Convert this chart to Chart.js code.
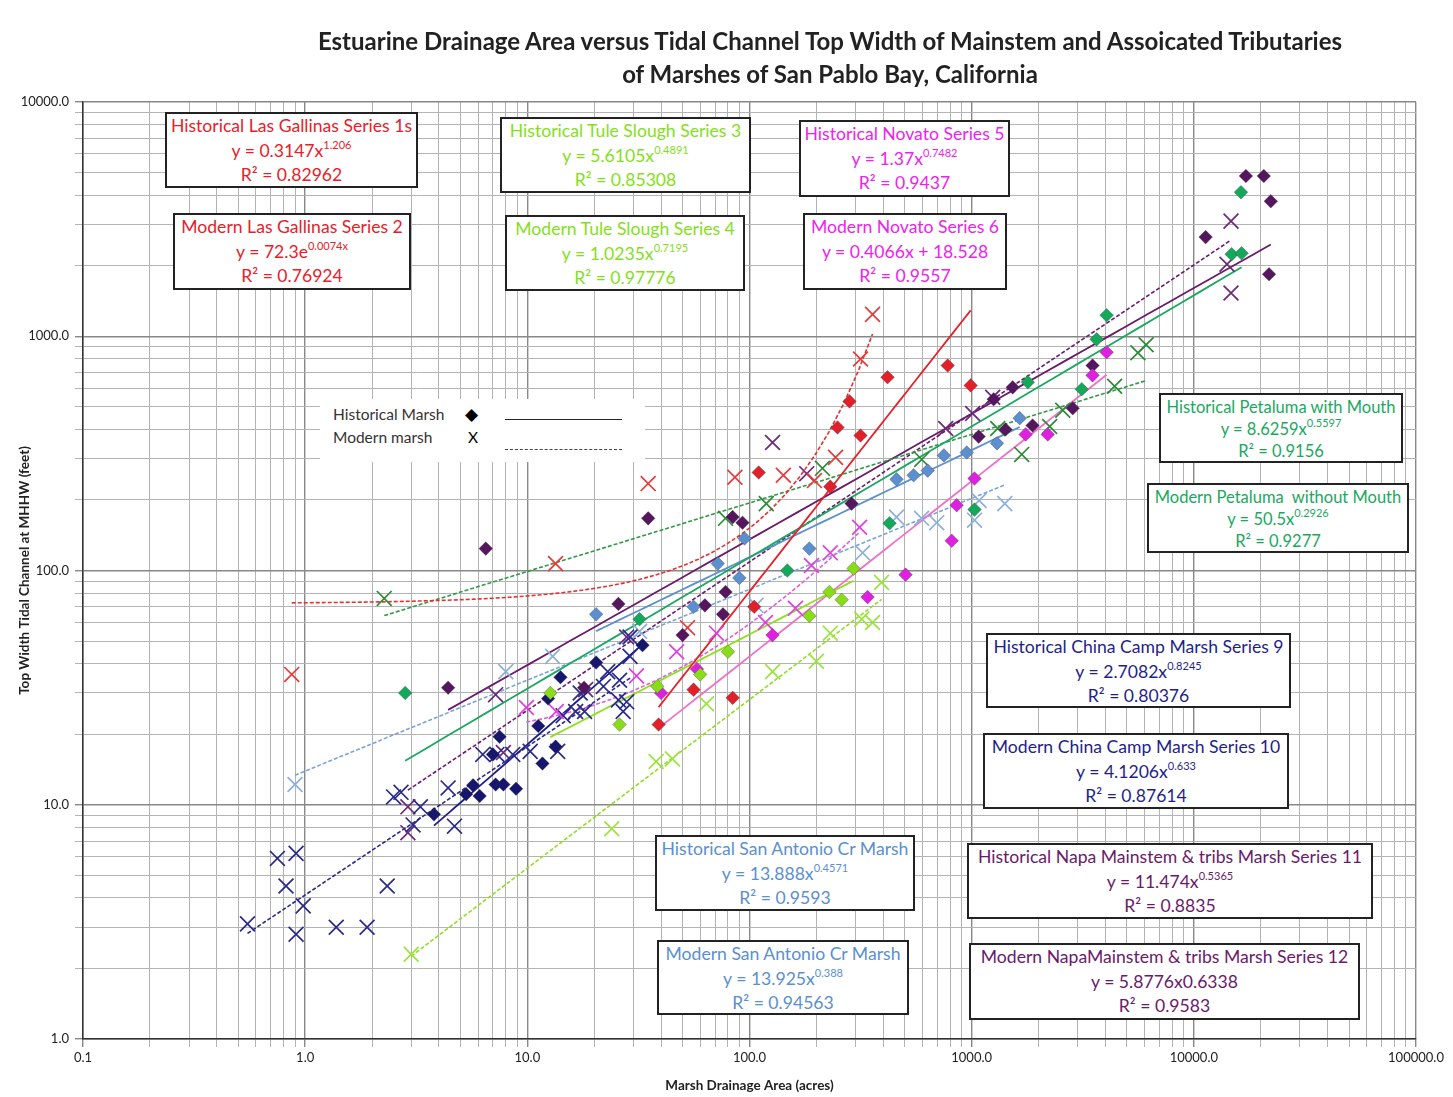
<!DOCTYPE html>
<html>
<head>
<meta charset="utf-8">
<script src="https://cdn.jsdelivr.net/npm/chart.js@4.4.1/dist/chart.umd.min.js"></script>
<style>
  body { margin: 0; background: #fff; font-family: Lato, "Open Sans", sans-serif; }
  #wrap { position: relative; width: 1453px; height: 1097px; }
  #chart { position: absolute; left: 0; top: 0; }
  .title { position: absolute; left: 230px; width: 1200px; text-align: center; font-weight: bold; font-size: 24px; color: #222; }
  .box { position: absolute; box-sizing: border-box; border: 2px solid #222; background: #fff;
         text-align: center; font-size: 17.6px; line-height: 24.5px; padding-top: 0px; white-space: nowrap; }
  .box.tight { font-size: 16.5px; line-height: 22px; padding-top: 1px; }
  .box sup { font-size: 11px; line-height: 0; vertical-align: 8px; }
  .legend { position: absolute; left: 320px; top: 399px; width: 325px; height: 63px; background: #fff; color: #333; font-size: 15.5px; }
  .legend span { position: absolute; }
  .legend i { position: absolute; left: 185px; width: 117px; }
</style>
</head>
<body>
<div id="wrap">
  <canvas id="chart" width="1453" height="1097"></canvas>
  <div class="title" style="top:26px">Estuarine Drainage Area versus Tidal Channel Top Width of Mainstem and Assoicated Tributaries</div>
  <div class="title" style="top:59px">of Marshes of San Pablo Bay, California</div>

  <div class="legend">
    <span style="left:13px;top:6px">Historical Marsh</span>
    <span style="left:145px;top:4px;font-size:17px;color:#000">&#9670;</span>
    <i style="top:20px;border-top:1.5px solid #222"></i>
    <span style="left:13px;top:29px">Modern marsh</span>
    <span style="left:148px;top:29px;color:#000">X</span>
    <i style="top:50px;border-top:1.5px dashed #444"></i>
  </div>

  <div class="box" style="left:165px;top:112px;width:253px;height:76px;color:#e8202a">Historical Las Gallinas Series 1s<br>y = 0.3147x<sup>1.206</sup><br>R² = 0.82962</div>
  <div class="box" style="left:173px;top:213px;width:238px;height:77px;color:#e8202a">Modern Las Gallinas Series 2<br>y = 72.3e<sup>0.0074x</sup><br>R² = 0.76924</div>
  <div class="box" style="left:500px;top:117px;width:251px;height:76px;color:#84e01a">Historical Tule Slough Series 3<br>y = 5.6105x<sup>0.4891</sup><br>R² = 0.85308</div>
  <div class="box" style="left:505px;top:215px;width:240px;height:76px;color:#84e01a">Modern Tule Slough Series 4<br>y = 1.0235x<sup>0.7195</sup><br>R² = 0.97776</div>
  <div class="box" style="left:799px;top:120px;width:211px;height:77px;color:#ee22ee">Historical Novato Series 5<br>y = 1.37x<sup>0.7482</sup><br>R² = 0.9437</div>
  <div class="box" style="left:803px;top:213px;width:204px;height:77px;color:#ee22ee">Modern Novato Series 6<br>y = 0.4066x + 18.528<br>R² = 0.9557</div>
  <div class="box tight" style="left:1159px;top:393px;width:244px;height:70px;color:#1aa860">Historical Petaluma with Mouth<br>y = 8.6259x<sup>0.5597</sup><br>R² = 0.9156</div>
  <div class="box tight" style="left:1147px;top:483px;width:262px;height:70px;color:#1aa860">Modern Petaluma&nbsp; without Mouth<br>y = 50.5x<sup>0.2926</sup><br>R² = 0.9277</div>
  <div class="box" style="left:986px;top:633px;width:305px;height:75px;color:#1f1f8a">Historical China Camp Marsh Series 9<br>y = 2.7082x<sup>0.8245</sup><br>R² = 0.80376</div>
  <div class="box" style="left:983px;top:733px;width:306px;height:76px;color:#1f1f8a">Modern China Camp Marsh Series 10<br>y = 4.1206x<sup>0.633</sup><br>R² = 0.87614</div>
  <div class="box" style="left:655px;top:835px;width:260px;height:76px;color:#5a8fd0">Historical San Antonio Cr Marsh<br>y = 13.888x<sup>0.4571</sup><br>R² = 0.9593</div>
  <div class="box" style="left:657px;top:940px;width:252px;height:75px;color:#5a8fd0">Modern San Antonio Cr Marsh<br>y = 13.925x<sup>0.388</sup><br>R² = 0.94563</div>
  <div class="box" style="left:967px;top:843px;width:406px;height:76px;color:#6a1a6a">Historical Napa Mainstem &amp; tribs Marsh Series 11<br>y = 11.474x<sup>0.5365</sup><br>R² = 0.8835</div>
  <div class="box" style="left:969px;top:943px;width:391px;height:77px;color:#6a1a6a">Modern NapaMainstem &amp; tribs Marsh Series 12<br>y = 5.8776x0.6338<br>R² = 0.9583</div>
</div>

<script>
// axis ranges
const xRange = [0.1, 100000];
const yRange = [1, 10000];

// [drainage area (acres), top width (feet)]
const lasGallinasHist = [[39,22],[56,31],[84,28.6],[105,70],[110,262],[231,228],[249,408],[282,527],[316,377],[418,668],[780,750],[990,617]];
const lasGallinasMod = [[0.87,36],[13.4,107],[35,235],[52.6,57],[86,250],[142,255],[196,242],[244,304],[316,800],[358,1240]];
const tuleHist = [[12.7,30],[26,22],[38.5,32],[60,36],[80,45],[186,64],[229,81],[260,75],[294,102]];
const tuleMod = [[3.0,2.3],[24,7.9],[38,15.3],[45,15.7],[64,27],[127,37],[200,41],[231,54],[320,62],[358,60],[393,89]];
const novatoHist = [[40,30],[58,38],[127,53],[340,77],[504,96],[813,134],[856,190],[1030,247],[1750,381],[2200,381],[3500,681],[4050,854]];
const novatoMod = [[9.9,26],[13.5,25],[31,35.5],[47,45],[71,54],[118,60],[161,69],[190,105],[231,119],[313,153]];
const petalumaHist = [[2.82,30],[32,62],[148,100],[427,159],[1030,182],[1790,637],[3130,594],[3650,970],[4050,1230],[14800,2240],[16400,2260],[16300,4120]];
const petalumaMod = [[2.27,76],[78,167],[119,193],[213,273],[596,298],[1310,404],[1680,313],[2245,412],[2570,483],[4400,612],[5600,850],[6100,920]];
const chinaCampHist = [[3.8,9.1],[5.3,11.1],[5.7,12.1],[6.1,10.9],[7.0,16.4],[7.2,12.2],[7.8,12.2],[7.5,19.5],[8.9,11.7],[11.2,21.7],[11.7,15],[12.4,28.4],[13.4,17.7],[14.1,35],[20.4,40.5],[33,48]];
const chinaCampMod = [[0.55,3.1],[0.75,5.9],[0.91,6.2],[0.82,4.5],[0.98,3.7],[0.91,2.8],[1.38,3.0],[1.9,3.0],[2.34,4.5],[2.5,10.8],[2.7,11.3],[3.3,9.8],[3.06,8.2],[4.7,8.1],[4.4,11.8],[6.3,16.4],[7.3,16.4],[8.6,16.4],[10.3,16.9],[13.7,16.9],[14.5,24],[16.5,25],[18.1,25],[17.3,30],[22,32],[23,37],[26,34],[28,27.5],[27,25],[29,43],[29,52],[25.7,28]];
const sanAntonioHist = [[20.4,65],[56,70],[72,107],[90,93],[95,137],[186,124],[459,245],[548,255],[634,267],[750,310],[950,319],[1300,349],[1645,447]];
const sanAntonioMod = [[0.9,12.2],[8.0,37],[13,43],[32,55],[107,71],[323,119],[459,169],[595,167],[696,160],[1030,164],[1080,199],[1410,193]];
const napaHist = [[4.4,31.6],[6.5,124],[18,31.6],[25.7,72],[35,167],[50,53],[63,71],[76,65],[78,81],[84,169],[93,160],[288,193],[1075,373],[1420,400],[1880,416],[1256,538],[1530,605],[2850,493],[3500,750],[11300,2650],[17150,4830],[20650,4830],[22200,3770],[21800,1840]];
const napaMod = [[2.9,9.8],[2.9,7.6],[7.2,29.5],[7.8,16.7],[18.3,31],[28,52],[127,352],[181,259],[764,404],[1010,468],[1243,549],[14100,2030],[14700,3100],[14700,1530]];

// trendline equations as printed in the boxes
const lasGallinasHistFit = ['power', 0.3147, 1.206];
const lasGallinasModFit = ['exp', 72.3, 0.0074];
const tuleHistFit = ['power', 5.6105, 0.4891];
const tuleModFit = ['power', 1.0235, 0.7195];
const novatoHistFit = ['power', 1.37, 0.7482];
const novatoModFit = ['linear', 0.4066, 18.528];
const petalumaHistFit = ['power', 8.6259, 0.5597];
const petalumaModFit = ['power', 50.5, 0.2926];
const chinaCampHistFit = ['power', 2.7082, 0.8245];
const chinaCampModFit = ['power', 4.1206, 0.633];
const sanAntonioHistFit = ['power', 13.888, 0.4571];
const sanAntonioModFit = ['power', 13.925, 0.388];
const napaHistFit = ['power', 11.474, 0.5365];
const napaModFit = ['power', 5.8776, 0.6338];

const seriesList = [
  { pts: lasGallinasHist, fit: lasGallinasHistFit, hist: true,  mark: '#e2202a', line: '#e8202a' },
  { pts: lasGallinasMod,  fit: lasGallinasModFit,  hist: false, mark: '#e83a3a', line: '#e83030' },
  { pts: tuleHist,        fit: tuleHistFit,        hist: true,  mark: '#88dd18', line: '#8ee01c' },
  { pts: tuleMod,         fit: tuleModFit,         hist: false, mark: '#9be53a', line: '#8fe020' },
  { pts: novatoHist,      fit: novatoHistFit,      hist: true,  mark: '#e020e0', line: '#f070c8' },
  { pts: novatoMod,       fit: novatoModFit,       hist: false, mark: '#e040e0', line: '#e060d8' },
  { pts: petalumaHist,    fit: petalumaHistFit,    hist: true,  mark: '#14a85a', line: '#1aa860' },
  { pts: petalumaMod,     fit: petalumaModFit,     hist: false, mark: '#2e8b3a', line: '#2e9a45' },
  { pts: chinaCampHist,   fit: chinaCampHistFit,   hist: true,  mark: '#16166e', line: '#1f1f8a' },
  { pts: chinaCampMod,    fit: chinaCampModFit,    hist: false, mark: '#2a2a8a', line: '#2a2a90' },
  { pts: sanAntonioHist,  fit: sanAntonioHistFit,  hist: true,  mark: '#5b8fd0', line: '#5b8fd0' },
  { pts: sanAntonioMod,   fit: sanAntonioModFit,   hist: false, mark: '#8ab0dd', line: '#7aa4d8' },
  { pts: napaHist,        fit: napaHistFit,        hist: true,  mark: '#55165f', line: '#6a1a6a' },
  { pts: napaMod,         fit: napaModFit,         hist: false, mark: '#6a2a7a', line: '#6a1a72' }
];

function isDecade(v) {
  const l = Math.log10(v);
  return Math.abs(l - Math.round(l)) < 1e-9;
}

function logTicks(min, max) {
  const out = [];
  for (let e = Math.floor(Math.log10(min)); e <= Math.ceil(Math.log10(max)); e++) {
    for (let m = 1; m <= 9; m++) {
      const v = parseFloat((m * Math.pow(10, e)).toPrecision(6));
      if (v >= min * 0.999 && v <= max * 1.001) out.push({ value: v, major: isDecade(v) });
    }
  }
  return out;
}

function trendPoints(pts, fit) {
  const xs = pts.map(p => p[0]);
  const lo = Math.min(...xs), hi = Math.max(...xs);
  const out = [];
  for (let i = 0; i <= 40; i++) {
    const x = lo * Math.pow(hi / lo, i / 40);
    let y;
    if (fit[0] === 'power') y = fit[1] * Math.pow(x, fit[2]);
    else if (fit[0] === 'exp') y = fit[1] * Math.exp(fit[2] * x);
    else y = fit[1] * x + fit[2];
    out.push({ x, y });
  }
  return out;
}

const datasets = [];
seriesList.forEach(s => {
  datasets.push({
    data: s.pts.map(p => ({ x: p[0], y: p[1] })),
    showLine: false,
    pointStyle: s.hist ? 'rectRot' : 'crossRot',
    pointRadius: s.hist ? 6.8 : 10.5,
    pointBackgroundColor: s.mark,
    pointBorderColor: s.hist ? 'rgba(60,60,60,0.35)' : s.mark,
    pointBorderWidth: s.hist ? 1 : 1.7,
    order: s.hist ? 0 : 1
  });
  datasets.push({
    data: trendPoints(s.pts, s.fit),
    showLine: true,
    pointRadius: 0,
    borderColor: s.line,
    borderWidth: s.hist ? 1.8 : 1.6,
    borderDash: s.hist ? [] : [4, 2],
    order: 2
  });
});

function gridColor(ctx) {
  return ctx.tick && ctx.tick.major ? '#888888' : '#b4b4b4';
}

new Chart(document.getElementById('chart'), {
  type: 'scatter',
  data: { datasets: datasets },
  options: {
    responsive: false,
    animation: false,
    layout: { padding: { top: 102, right: 37, left: 0, bottom: 0 } },
    plugins: { legend: { display: false }, tooltip: { enabled: false } },
    scales: {
      x: {
        type: 'logarithmic',
        min: xRange[0],
        max: xRange[1],
        afterBuildTicks: scale => { scale.ticks = logTicks(xRange[0], xRange[1]); },
        afterFit: scale => { scale.height = 58; },
        grid: { color: gridColor, lineWidth: c => (c.tick && c.tick.major ? 1.4 : 1), tickLength: 8 },
        border: { color: '#333', width: 1.5 },
        ticks: {
          autoSkip: false, maxRotation: 0, padding: 3, color: '#222',
          font: { family: 'Lato', size: 13 },
          callback: v => (isDecade(v) ? v.toFixed(1) : '')
        },
        title: { display: true, text: 'Marsh Drainage Area (acres)', color: '#222',
                 font: { family: 'Lato', size: 13.5, weight: 'bold' }, padding: { top: 0, bottom: 3 } }
      },
      y: {
        type: 'logarithmic',
        min: yRange[0],
        max: yRange[1],
        afterBuildTicks: scale => { scale.ticks = logTicks(yRange[0], yRange[1]); },
        afterFit: scale => { scale.width = 83; },
        grid: { color: gridColor, lineWidth: c => (c.tick && c.tick.major ? 1.4 : 1), tickLength: 8 },
        border: { color: '#333', width: 1.5 },
        ticks: {
          autoSkip: false, padding: 6, color: '#222',
          font: { family: 'Lato', size: 13 },
          callback: v => (isDecade(v) ? v.toFixed(1) : '')
        },
        title: { display: true, text: 'Top Width Tidal Channel at MHHW (feet)', color: '#222',
                 font: { family: 'Lato', size: 13.5, weight: 'bold' }, padding: { top: 17, bottom: 0 } }
      }
    }
  }
});
</script>
</body>
</html>
